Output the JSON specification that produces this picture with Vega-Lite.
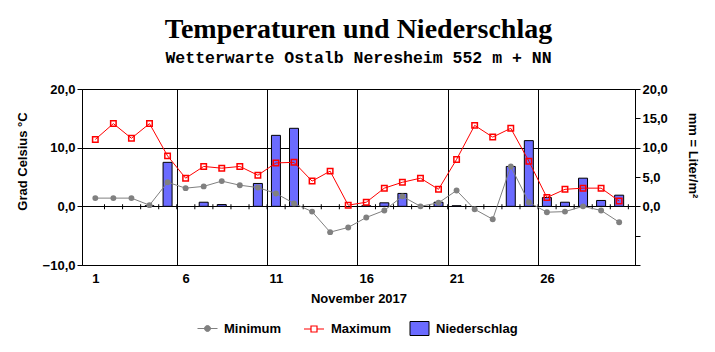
{
  "$schema": "https://vega.github.io/schema/vega-lite/v6.json",
  "width": 553,
  "height": 176,
  "autosize": {"type": "none"},
  "padding": {"left": 82, "top": 89, "right": 80, "bottom": 87},
  "background": "white",
  "title": {
    "text": "Temperaturen und Niederschlag",
    "subtitle": "Wetterwarte Ostalb Neresheim 552 m + NN",
    "font": "Liberation Serif",
    "fontSize": 28,
    "fontWeight": "bold",
    "color": "black",
    "subtitleFont": "Liberation Mono",
    "subtitleFontSize": 16.5,
    "subtitleFontWeight": "bold",
    "subtitleColor": "black",
    "subtitlePadding": 6,
    "anchor": "middle",
    "offset": 17
  },
  "data": {
    "values": [
      {"Tag": 1, "Minimum": 1.4, "Maximum": 11.4, "Niederschlag": 0},
      {"Tag": 2, "Minimum": 1.4, "Maximum": 14.1, "Niederschlag": 0},
      {"Tag": 3, "Minimum": 1.4, "Maximum": 11.6, "Niederschlag": 0},
      {"Tag": 4, "Minimum": 0.2, "Maximum": 14.1, "Niederschlag": 0.1},
      {"Tag": 5, "Minimum": 4.1, "Maximum": 8.6, "Niederschlag": 7.5},
      {"Tag": 6, "Minimum": 3.1, "Maximum": 4.8, "Niederschlag": 0},
      {"Tag": 7, "Minimum": 3.4, "Maximum": 6.8, "Niederschlag": 0.7},
      {"Tag": 8, "Minimum": 4.3, "Maximum": 6.5, "Niederschlag": 0.3},
      {"Tag": 9, "Minimum": 3.6, "Maximum": 6.8, "Niederschlag": 0},
      {"Tag": 10, "Minimum": 3.2, "Maximum": 5.3, "Niederschlag": 3.9},
      {"Tag": 11, "Minimum": 2.2, "Maximum": 7.4, "Niederschlag": 12.1},
      {"Tag": 12, "Minimum": 0.5, "Maximum": 7.5, "Niederschlag": 13.3},
      {"Tag": 13, "Minimum": -0.9, "Maximum": 4.3, "Niederschlag": 0},
      {"Tag": 14, "Minimum": -4.4, "Maximum": 6.0, "Niederschlag": 0},
      {"Tag": 15, "Minimum": -3.6, "Maximum": 0.2, "Niederschlag": 0},
      {"Tag": 16, "Minimum": -1.9, "Maximum": 0.7, "Niederschlag": 0.1},
      {"Tag": 17, "Minimum": -0.7, "Maximum": 3.1, "Niederschlag": 0.6},
      {"Tag": 18, "Minimum": 1.7, "Maximum": 4.1, "Niederschlag": 2.2},
      {"Tag": 19, "Minimum": 0.0, "Maximum": 4.8, "Niederschlag": 0},
      {"Tag": 20, "Minimum": 0.6, "Maximum": 2.9, "Niederschlag": 0.7},
      {"Tag": 21, "Minimum": 2.7, "Maximum": 8.0, "Niederschlag": 0.1},
      {"Tag": 22, "Minimum": -0.5, "Maximum": 13.8, "Niederschlag": 0},
      {"Tag": 23, "Minimum": -2.2, "Maximum": 11.8, "Niederschlag": 0},
      {"Tag": 24, "Minimum": 6.8, "Maximum": 13.3, "Niederschlag": 6.8},
      {"Tag": 25, "Minimum": 0.7, "Maximum": 7.7, "Niederschlag": 11.2},
      {"Tag": 26, "Minimum": -1.0, "Maximum": 1.5, "Niederschlag": 1.5},
      {"Tag": 27, "Minimum": -0.9, "Maximum": 2.9, "Niederschlag": 0.7},
      {"Tag": 28, "Minimum": 0.0, "Maximum": 3.1, "Niederschlag": 4.8},
      {"Tag": 29, "Minimum": -0.7, "Maximum": 3.1, "Niederschlag": 1.0},
      {"Tag": 30, "Minimum": -2.7, "Maximum": 0.9, "Niederschlag": 1.9}
    ]
  },
  "encoding": {
    "x": {
      "field": "Tag",
      "type": "quantitative",
      "scale": {"domain": [0.54, 30.6], "nice": false, "zero": false},
      "axis": {
        "title": "November 2017",
        "offset": -58.67,
        "values": [1,2,3,4,5,6,7,8,9,10,11,12,13,14,15,16,17,18,19,20,21,22,23,24,25,26,27,28,29],
        "tickOffset": 9.2,
        "labelOffset": -9.2,
        "labelExpr": "(datum.value - 1) % 5 == 0 ? format(datum.value, 'd') : ''",
        "labelOverlap": false,
        "labelPadding": 62,
        "ticks": true,
        "tickSize": 4,
        "tickColor": "transparent",
        "grid": true,
        "gridColor": "black",
        "gridOpacity": {"condition": {"test": "datum.value % 5 == 0", "value": 1}, "value": 0},
        "domain": false,
        "titlePadding": 7
      }
    }
  },
  "layer": [
    {
      "transform": [{"filter": "datum.Niederschlag > 0"}],
      "mark": {"type": "bar", "size": 9, "stroke": "black", "strokeWidth": 1},
      "encoding": {
        "y": {
          "field": "Niederschlag",
          "type": "quantitative",
          "scale": {"domain": [-10, 20], "nice": false},
          "axis": {
            "orient": "right",
            "title": "mm = Liter/m²",
            "titleY": 66,
            "titlePadding": 18,
            "values": [-10, -5, 0, 5, 10, 15, 20],
            "labelExpr": "datum.value >= 0 ? replace(format(datum.value, '.1f'), '.', ',') : ''",
            "grid": false,
            "tickSize": 5,
            "tickColor": "black",
            "domainColor": "black"
          }
        },
        "color": {
          "datum": "Niederschlag",
          "scale": {"domain": ["Niederschlag"], "range": ["#6b6bff"]},
          "legend": {
            "title": null,
            "orient": "none",
            "legendX": 327,
            "legendY": 229,
            "symbolSize": 400,
            "symbolType": "M-0.95,-0.7H0.95V0.7H-0.95Z",
            "symbolStrokeColor": "black",
            "symbolStrokeWidth": 1,
            "symbolOpacity": 1,
            "labelOffset": 6,
            "padding": 0,
            "labelFont": "Liberation Sans",
            "labelFontSize": 13,
            "labelFontWeight": "bold",
            "labelColor": "black"
          }
        }
      }
    },
    {
      "layer": [
        {
          "mark": {"type": "tick", "orient": "vertical", "size": 5, "thickness": 1, "color": "black", "xOffset": 9.2, "yOffset": 0.5, "opacity": 1},
          "encoding": {
            "y": {
              "datum": 0,
              "type": "quantitative",
              "scale": {"domain": [-10, 20], "nice": false},
              "axis": {
                "orient": "left",
                "title": "Grad Celsius °C",
                "titleY": 72,
                "titlePadding": 13,
                "values": [-10, -5, 0, 5, 10, 15, 20],
                "labelExpr": "replace(format(datum.value, '.1f'), '.', ',')",
                "grid": true,
                "gridColor": "black",
                "gridOpacity": 1,
                "tickSize": 5,
                "tickColor": "black",
                "domainColor": "black"
              }
            }
          }
        },
        {
          "mark": {"type": "line", "strokeWidth": 1, "point": {"filled": true, "size": 35}},
          "encoding": {
            "y": {"field": "Minimum", "type": "quantitative"},
            "color": {
              "datum": "Minimum",
              "scale": {"domain": ["Minimum"], "range": ["#808080"]},
              "legend": {
                "title": null,
                "orient": "none",
                "legendX": 115,
                "legendY": 229,
                "symbolSize": 400,
                "symbolType": "M-1,0H1M0.3,0A0.3,0.3 0 1,1 -0.3,0A0.3,0.3 0 1,1 0.3,0Z",
                "symbolFillColor": "#808080",
                "symbolStrokeWidth": 1,
                "symbolOpacity": 1,
                "labelOffset": 6,
                "padding": 0,
                "labelFont": "Liberation Sans",
                "labelFontSize": 13,
                "labelFontWeight": "bold",
                "labelColor": "black"
              }
            }
          }
        },
        {
          "mark": {"type": "line", "strokeWidth": 1, "point": {"filled": false, "shape": "square", "size": 30, "strokeWidth": 1.5}},
          "encoding": {
            "y": {"field": "Maximum", "type": "quantitative"},
            "color": {
              "datum": "Maximum",
              "scale": {"domain": ["Maximum"], "range": ["#ff0000"]},
              "legend": {
                "title": null,
                "orient": "none",
                "legendX": 221,
                "legendY": 229,
                "symbolSize": 400,
                "symbolType": "M-1,0H-0.3M0.3,0H1M-0.3,-0.3H0.3V0.3H-0.3Z",
                "symbolFillColor": "white",
                "symbolStrokeWidth": 1.2,
                "symbolOpacity": 1,
                "labelOffset": 6,
                "padding": 0,
                "labelFont": "Liberation Sans",
                "labelFontSize": 13,
                "labelFontWeight": "bold",
                "labelColor": "black"
              }
            }
          }
        }
      ],
      "resolve": {"scale": {"color": "independent"}}
    }
  ],
  "resolve": {"scale": {"y": "independent", "color": "independent"}},
  "config": {
    "view": {"stroke": "black", "strokeWidth": 1},
    "axis": {
      "labelFont": "Liberation Sans",
      "labelFontSize": 13,
      "labelFontWeight": "bold",
      "labelColor": "black",
      "titleFont": "Liberation Sans",
      "titleFontSize": 13,
      "titleFontWeight": "bold",
      "titleColor": "black",
      "labelPadding": 2
    }
  }
}
